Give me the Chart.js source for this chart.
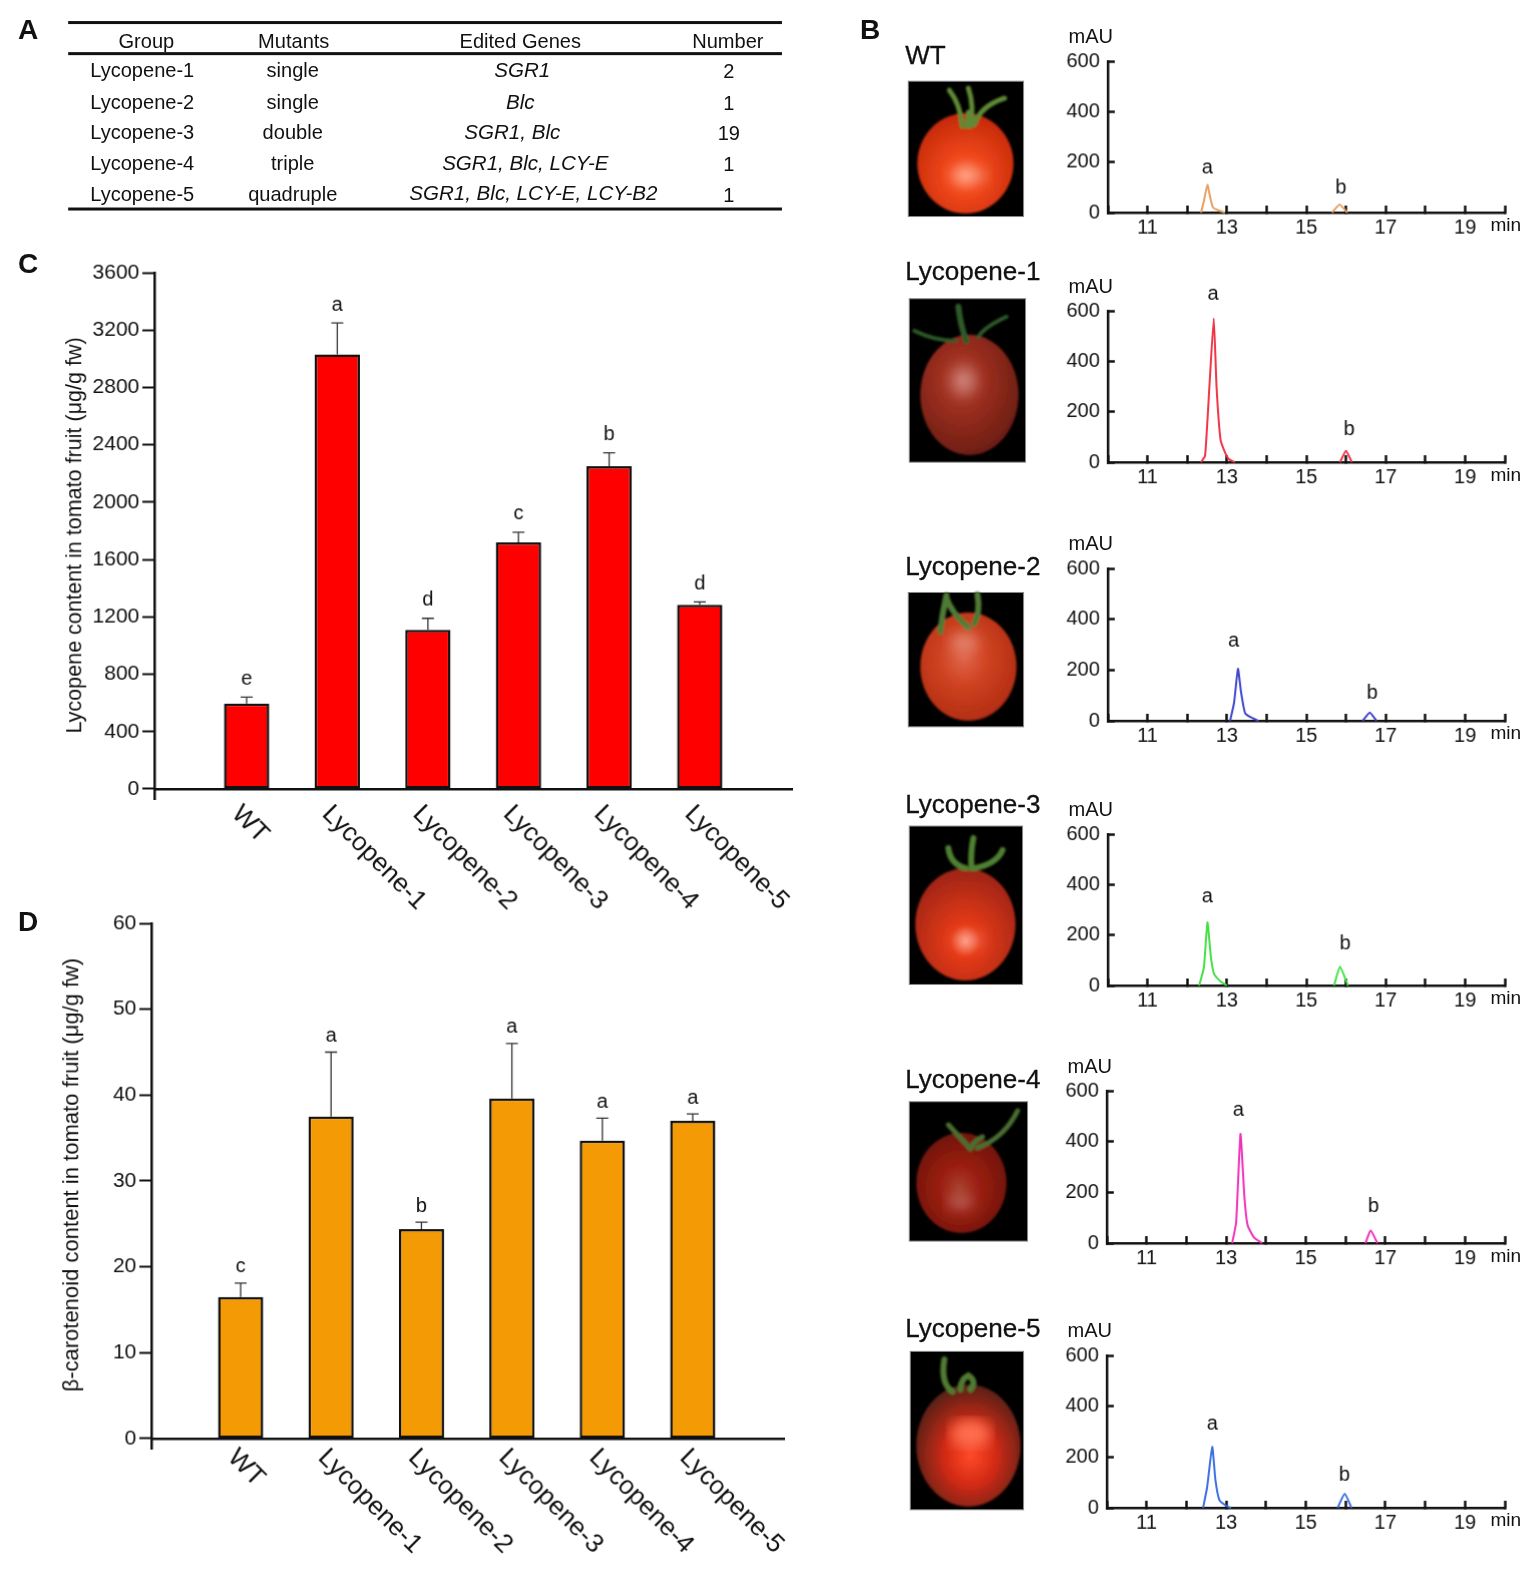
<!DOCTYPE html>
<html>
<head>
<meta charset="utf-8">
<title>Lycopene mutants</title>
<script src="https://cdn.jsdelivr.net/npm/chart.js@4"></script>
<style>
  html, body { margin: 0; padding: 0; background: #fff; overflow: hidden; }
  #page { position: relative; width: 1532px; height: 1569px; overflow: hidden; transform: scale(1.0025); transform-origin: 0 0; font-family: "Liberation Sans", Arial, sans-serif; color: #111; }
  #page canvas { position: absolute; }
  .txt { position: absolute; white-space: nowrap; transform: translate(-50%, -50%); line-height: 1; }
  .left { transform: translate(0, -50%); }
  .panel { font-size: 28px; font-weight: bold; color: #111; }
  .head { font-size: 26px; color: #111; -webkit-text-stroke: 0.3px #111; }
  .ital { font-style: italic; }
  .rule { position: absolute; left: 68px; width: 712px; height: 3px; background: #111; }
  #photos { position: absolute; left: 0; top: 0; }
</style>
</head>
<body>
<div id="page">
  <svg id="photos" width="1532" height="1569" xmlns="http://www.w3.org/2000/svg">
    <defs>
      <filter id="soft"><feGaussianBlur stdDeviation="0.8"/></filter>
      <filter id="softer"><feGaussianBlur stdDeviation="7"/></filter>
      <radialGradient id="tomWT" cx="0.5" cy="0.62" r="0.6"><stop offset="0" stop-color="#ff8058"/><stop offset="0.3" stop-color="#f2491c"/><stop offset="1" stop-color="#c62a08"/></radialGradient>
      <radialGradient id="tomL1" cx="0.42" cy="0.38" r="0.65"><stop offset="0" stop-color="#b84a3c"/><stop offset="0.35" stop-color="#9e2f20"/><stop offset="1" stop-color="#6b1d12"/></radialGradient>
      <radialGradient id="tomL2" cx="0.45" cy="0.42" r="0.62"><stop offset="0" stop-color="#e0654a"/><stop offset="0.4" stop-color="#cf4322"/><stop offset="1" stop-color="#b02c10"/></radialGradient>
      <radialGradient id="tomL3" cx="0.5" cy="0.65" r="0.65"><stop offset="0" stop-color="#ff8a70"/><stop offset="0.22" stop-color="#e63a16"/><stop offset="1" stop-color="#9c2412"/></radialGradient>
      <radialGradient id="tomL4" cx="0.48" cy="0.55" r="0.6"><stop offset="0" stop-color="#a8402e"/><stop offset="0.35" stop-color="#9c1f12"/><stop offset="1" stop-color="#6a120b"/></radialGradient>
      <radialGradient id="tomL5" cx="0.52" cy="0.58" r="0.6"><stop offset="0" stop-color="#ff4a2a"/><stop offset="0.4" stop-color="#d42a14"/><stop offset="1" stop-color="#4e2016"/></radialGradient>
    </defs>
    <g fill="#000" stroke="#888" stroke-width="1">
      <rect x="906" y="81" width="115" height="135"/>
      <rect x="907" y="298" width="116" height="163"/>
      <rect x="906" y="591" width="115" height="134"/>
      <rect x="907" y="824" width="113" height="158"/>
      <rect x="907" y="1099" width="118" height="139"/>
      <rect x="908" y="1348" width="113" height="158"/>
    </g>
    <g filter="url(#soft)">
      <ellipse cx="963" cy="163" rx="48" ry="50" fill="url(#tomWT)"/>
      <g fill="none" stroke="#5f8a35" stroke-linecap="round" stroke-width="5">
        <path d="M960 126 Q958 104 947 90"/><path d="M968 126 Q972 106 966 88"/><path d="M972 124 Q978 106 1002 98"/><path d="M965 126 L966 112"/>
      </g>
      <ellipse cx="967" cy="394" rx="49" ry="60" fill="url(#tomL1)"/>
      <g fill="none" stroke="#2f5a2a" stroke-linecap="round" stroke-width="4">
        <path d="M964 340 Q958 325 956 306" stroke-width="6"/><path d="M976 336 Q982 326 1004 316"/><path d="M953 340 Q932 340 912 330"/>
      </g>
      <ellipse cx="966" cy="665" rx="48" ry="54" fill="url(#tomL2)"/>
      <g fill="none" stroke="#4f7a35" stroke-linecap="round" stroke-width="6">
        <path d="M938 630 Q940 612 944 594"/><path d="M966 626 Q948 610 944 596"/><path d="M972 622 Q978 610 975 593"/>
      </g>
      <ellipse cx="963" cy="922" rx="50" ry="56" fill="url(#tomL3)"/>
      <g fill="none" stroke="#4f8032" stroke-linecap="round" stroke-width="6">
        <path d="M969 866 Q968 850 971 836"/><path d="M963 866 Q948 862 946 846"/><path d="M972 866 Q994 862 1000 848"/>
      </g>
      <ellipse cx="959" cy="1180" rx="45" ry="50" fill="url(#tomL4)"/>
      <g fill="none" stroke="#4a6e30" stroke-linecap="round" stroke-width="5">
        <path d="M975 1145 Q1002 1135 1015 1108"/><path d="M968 1146 Q958 1135 946 1122"/><path d="M968 1146 Q972 1138 980 1134"/>
      </g>
      <ellipse cx="966" cy="1442" rx="52" ry="61" fill="url(#tomL5)"/>
      <ellipse cx="968" cy="1430" rx="20" ry="14" fill="#ff7050" filter="url(#softer)"/>
      <g fill="none" stroke="#4f7a32" stroke-linecap="round" stroke-width="6">
        <path d="M950 1388 Q938 1380 942 1356"/><path d="M968 1386 Q975 1378 966 1372 Q958 1376 958 1386"/>
      </g>
    </g>
    <g fill="#fff" opacity="0.3" filter="url(#softer)">
      <ellipse cx="966" cy="175" rx="20" ry="8"/><ellipse cx="962" cy="380" rx="12" ry="14"/><ellipse cx="962" cy="640" rx="14" ry="9"/>
      <ellipse cx="966" cy="938" rx="16" ry="6"/><ellipse cx="958" cy="1200" rx="14" ry="6"/>
    </g>
  </svg>
  <div class="rule" style="top:21px"></div>
  <div class="rule" style="top:52px"></div>
  <div class="rule" style="top:207px"></div>
</div>
<script>
  // Dados
  const categories = ['WT', 'Lycopene-1', 'Lycopene-2', 'Lycopene-3', 'Lycopene-4', 'Lycopene-5'];
  const lycopeneValues = [595, 3030, 1110, 1720, 2250, 1285];
  const lycopeneUpper = [640, 3250, 1190, 1790, 2345, 1305];
  const lycopeneLetters = ['e', 'a', 'd', 'c', 'b', 'd'];
  const lycopeneTicks = [0, 400, 800, 1200, 1600, 2000, 2400, 2800, 3200, 3600];
  const caroteneValues = [16.5, 37.5, 24.4, 39.6, 34.7, 37];
  const caroteneUpper = [18.1, 45, 25.2, 46, 37.3, 37.8];
  const caroteneLetters = ['c', 'a', 'b', 'a', 'a', 'a'];
  const caroteneTicks = [0, 10, 20, 30, 40, 50, 60];

  // Cromatogramas: tempo (min) e sinal (mAU), null separa os picos
  const wtTimes = [12.35, 12.42, 12.51, 12.58, 12.65, 12.8, 12.95, null, 15.65, 15.84, 16.03];
  const wtSignal = [0, 45, 110, 60, 20, 8, 0, null, 0, 32, 0];
  const lyc1Times = [12.35, 12.45, 12.56, 12.67, 12.74, 12.84, 12.95, 13.05, 13.2, null, 15.85, 16.0, 16.15];
  const lyc1Signal = [0, 25, 300, 570, 300, 90, 40, 12, 0, null, 0, 45, 0];
  const lyc2Times = [13.08, 13.18, 13.28, 13.36, 13.46, 13.6, 13.8, null, 16.42, 16.6, 16.77];
  const lyc2Signal = [0, 70, 205, 110, 30, 14, 0, null, 0, 33, 0];
  const lyc3Times = [12.3, 12.42, 12.51, 12.6, 12.68, 12.85, 13.0, null, 15.7, 15.85, 16.05];
  const lyc3Signal = [0, 70, 250, 110, 45, 15, 0, null, 0, 75, 0];
  const lyc4Times = [13.15, 13.25, 13.36, 13.46, 13.54, 13.7, 13.9, null, 16.5, 16.63, 16.8];
  const lyc4Signal = [0, 80, 430, 180, 70, 22, 0, null, 0, 50, 0];
  const lyc5Times = [12.42, 12.52, 12.65, 12.73, 12.83, 13.0, 13.12, null, 15.8, 15.98, 16.15];
  const lyc5Signal = [0, 80, 240, 110, 30, 8, 0, null, 0, 55, 0];
  const chromTicks = [0, 200, 400, 600];

  // Tabela do painel A
  const tableGroups = ['Lycopene-1', 'Lycopene-2', 'Lycopene-3', 'Lycopene-4', 'Lycopene-5'];
  const tableMutants = ['single', 'single', 'double', 'triple', 'quadruple'];
  const tableGenes = ['SGR1', 'Blc', 'SGR1, Blc', 'SGR1, Blc, LCY-E', 'SGR1, Blc, LCY-E, LCY-B2'];
  const tableNumbers = ['2', '1', '19', '1', '1'];

  const FONT = '"Liberation Sans", Arial, sans-serif';
  const INK = '#111';
  const page = document.getElementById('page');

  Chart.defaults.font.family = FONT;
  Chart.defaults.color = INK;
  Chart.defaults.animation = false;
  Chart.defaults.responsive = false;

  function addText(text, x, y, size, cls) {
    const el = document.createElement('div');
    el.className = 'txt ' + (cls || '');
    el.textContent = text;
    el.style.left = x + 'px';
    el.style.top = y + 'px';
    if (size) el.style.fontSize = size + 'px';
    page.appendChild(el);
  }

  function addCanvas(left, top, width, height) {
    const c = document.createElement('canvas');
    c.width = width;
    c.height = height;
    c.style.left = left + 'px';
    c.style.top = top + 'px';
    c.style.width = width + 'px';
    c.style.height = height + 'px';
    page.appendChild(c);
    return c;
  }

  // Letras de painel e tabela
  addText('A', 28, 30, 0, 'panel');
  addText('B', 868, 30, 0, 'panel');
  addText('C', 28, 263, 0, 'panel');
  addText('D', 28, 920, 0, 'panel');

  addText('Group', 146, 41, 20);
  addText('Mutants', 293, 41, 20);
  addText('Edited Genes', 519, 41, 20);
  addText('Number', 726, 41, 20);
  const rowY = [70, 102, 132, 163, 193];
  const geneX = [521, 519, 511, 524, 532];
  tableGroups.forEach((g, i) => {
    addText(g, 90, rowY[i], 20, 'left');
    addText(tableMutants[i], 292, rowY[i], 20);
    addText(tableGenes[i], geneX[i], rowY[i], 20.5, 'ital');
    addText(tableNumbers[i], 727, rowY[i] + 1, 20);
  });

  // Barras com erro (só para cima), letras e título do eixo
  function barChart(cfg) {
    const plugin = {
      id: 'barMarks',
      afterDatasetsDraw(chart) {
        const { ctx, scales: { x, y } } = chart;
        ctx.save();
        cfg.values.forEach((v, i) => {
          const px = x.getPixelForValue(i);
          const py0 = y.getPixelForValue(v);
          const py1 = y.getPixelForValue(cfg.upper[i]);
          ctx.strokeStyle = '#333';
          ctx.lineWidth = 1.3;
          ctx.beginPath();
          ctx.moveTo(px, py0);
          ctx.lineTo(px, py1);
          ctx.moveTo(px - 6, py1);
          ctx.lineTo(px + 6, py1);
          ctx.stroke();
          ctx.fillStyle = '#111';
          ctx.font = '20px ' + FONT;
          ctx.textAlign = 'center';
          ctx.textBaseline = 'middle';
          ctx.fillText(cfg.letters[i], px, py1 - cfg.letterGap);
        });
        ctx.translate(cfg.titleX, cfg.titleY);
        ctx.rotate(-Math.PI / 2);
        ctx.fillStyle = INK;
        ctx.font = cfg.titleSize + 'px ' + FONT;
        ctx.fillText(cfg.title, 0, 0);
        ctx.restore();
      }
    };
    return new Chart(addCanvas(cfg.left, cfg.top, cfg.width, cfg.height), {
      type: 'bar',
      data: {
        datasets: [{
          data: cfg.values.map((v, i) => ({ x: i, y: v })),
          backgroundColor: cfg.color,
          borderColor: '#111',
          borderWidth: 2.5,
          borderSkipped: false,
          barPercentage: 0.5,
          categoryPercentage: 1
        }]
      },
      options: {
        layout: { padding: { top: cfg.padTop, right: cfg.padRight, left: 0, bottom: cfg.xHeight } },
        plugins: { legend: { display: false }, tooltip: { enabled: false } },
        scales: {
          x: {
            type: 'linear',
            position: { y: 0 },
            offset: false,
            min: cfg.xMin,
            max: cfg.xMax,
            grid: { display: false, drawTicks: false, offset: false },
            border: { color: '#111', width: 2.5 },
            afterDataLimits: s => { s._getXAxisLabelAlignment = () => 'left'; },
            afterFit: s => { s.height = 0; },
            ticks: {
              stepSize: 1,
              includeBounds: false,
              autoSkip: false,
              minRotation: -45,
              maxRotation: -45,
              labelOffset: cfg.labelShift,
              padding: cfg.labelPad,
              font: { size: 26 },
              color: '#111',
              callback: v => categories[v] ?? ''
            }
          },
          y: {
            min: cfg.yMin,
            max: cfg.yMax,
            grid: { drawOnChartArea: false, tickLength: 12, tickWidth: 2, tickColor: '#111' },
            border: { color: '#111', width: 2.5 },
            afterBuildTicks: s => { s.ticks = cfg.ticks.map(value => ({ value })); },
            afterFit: s => { s.width = cfg.yWidth; },
            ticks: { font: { size: 21 }, padding: 3, color: INK, callback: v => String(v) }
          }
        }
      },
      plugins: [plugin]
    });
  }

  barChart({
    left: 40, top: 242, width: 800, height: 680, padTop: 30, padRight: 50, yWidth: 114, xHeight: 125,
    xMin: -1.018, xMax: 6.018, yMin: -70, yMax: 3600, ticks: lycopeneTicks, labelShift: -11, labelPad: 10,
    values: lycopeneValues, upper: lycopeneUpper, letters: lycopeneLetters, letterGap: 18,
    color: '#ff0000', title: 'Lycopene content in tomato fruit (\u03bcg/g fw)', titleX: 35, titleY: 292, titleSize: 21.5
  });

  barChart({
    left: 40, top: 891, width: 790, height: 670, padTop: 30, padRight: 48, yWidth: 111, xHeight: 116,
    xMin: -0.987, xMax: 6.009, yMin: -1.17, yMax: 60, ticks: caroteneTicks, labelShift: -9, labelPad: 4,
    values: caroteneValues, upper: caroteneUpper, letters: caroteneLetters, letterGap: 16,
    color: '#f39a05', title: '\u03b2-carotenoid content in tomato fruit (\u03bcg/g fw)', titleX: 32, titleY: 281, titleSize: 22
  });

  // Cromatogramas do painel B
  function chromChart(cfg) {
    const points = cfg.times.map((t, i) => (t === null ? { x: null, y: null } : { x: t, y: cfg.signal[i] }));
    const plugin = {
      id: 'peakLetters',
      afterDatasetsDraw(chart) {
        const { ctx, scales: { x, y } } = chart;
        ctx.save();
        ctx.fillStyle = '#111';
        ctx.font = '20px ' + FONT;
        ctx.textAlign = 'center';
        ctx.textBaseline = 'middle';
        ctx.fillText('a', x.getPixelForValue(cfg.aAt[0]), y.getPixelForValue(cfg.aAt[1]));
        ctx.fillText('b', x.getPixelForValue(cfg.bAt[0]), y.getPixelForValue(cfg.bAt[1]));
        ctx.restore();
      }
    };
    const axisLeft = cfg.axisLeft || 1105;
    new Chart(addCanvas(1040, cfg.top - 50, 471, cfg.bottom - cfg.top + 50 + 34), {
      type: 'line',
      data: {
        datasets: [{
          data: points,
          borderColor: cfg.color,
          borderWidth: 2,
          pointRadius: 0,
          tension: 0.15,
          spanGaps: false,
          clip: false
        }]
      },
      options: {
        layout: { padding: { top: 50, right: 10, left: 0, bottom: 0 } },
        plugins: { legend: { display: false }, tooltip: { enabled: false } },
        scales: {
          x: {
            type: 'linear',
            min: 10,
            max: 20,
            grid: { drawOnChartArea: false, tickLength: -7, tickWidth: 2.5, tickColor: '#111' },
            border: { color: '#111', width: 2.5 },
            afterFit: s => { s.height = 34; },
            ticks: {
              stepSize: 1,
              autoSkip: false,
              maxRotation: 0,
              padding: 10,
              font: { size: 20 },
              color: INK,
              callback: v => (v % 2 === 1 ? String(v) : '')
            }
          },
          y: {
            min: 0,
            max: 600,
            grid: { drawOnChartArea: false, tickLength: -7, tickWidth: 2.5, tickColor: '#111' },
            border: { color: '#111', width: 2.5 },
            afterBuildTicks: s => { s.ticks = chromTicks.map(value => ({ value })); },
            afterFit: s => { s.width = axisLeft - 1040; },
            ticks: { font: { size: 20 }, padding: 15, color: INK }
          }
        }
      },
      plugins: [plugin]
    });
    addText('mAU', axisLeft - 17, cfg.top - 25, 20);
    addText('min', 1502, cfg.bottom + 12, 19);
    addText(cfg.name, 903, cfg.nameY, 0, 'left head');
  }

  chromChart({ name: 'WT', nameY: 55, top: 61, bottom: 212, times: wtTimes, signal: wtSignal, color: '#e8a062', aAt: [12.51, 178], bAt: [15.87, 99] });
  chromChart({ name: 'Lycopene-1', nameY: 270, top: 310, bottom: 461, times: lyc1Times, signal: lyc1Signal, color: '#ee3344', aAt: [12.65, 667], bAt: [16.08, 131] });
  chromChart({ name: 'Lycopene-2', nameY: 565, top: 567, bottom: 719, times: lyc2Times, signal: lyc2Signal, color: '#3f46cc', aAt: [13.17, 313], bAt: [16.66, 107] });
  chromChart({ name: 'Lycopene-3', nameY: 802, top: 832, bottom: 983, times: lyc3Times, signal: lyc3Signal, color: '#44e044', aAt: [12.51, 353], bAt: [15.98, 163] });
  chromChart({ name: 'Lycopene-4', nameY: 1076, top: 1088, bottom: 1240, axisLeft: 1104, times: lyc4Times, signal: lyc4Signal, color: '#ee33bb', aAt: [13.31, 524], bAt: [16.7, 143] });
  chromChart({ name: 'Lycopene-5', nameY: 1325, top: 1352, bottom: 1504, axisLeft: 1104, times: lyc5Times, signal: lyc5Signal, color: '#3a6ee0', aAt: [12.65, 329], bAt: [15.97, 127] });
</script>
</body>
</html>
